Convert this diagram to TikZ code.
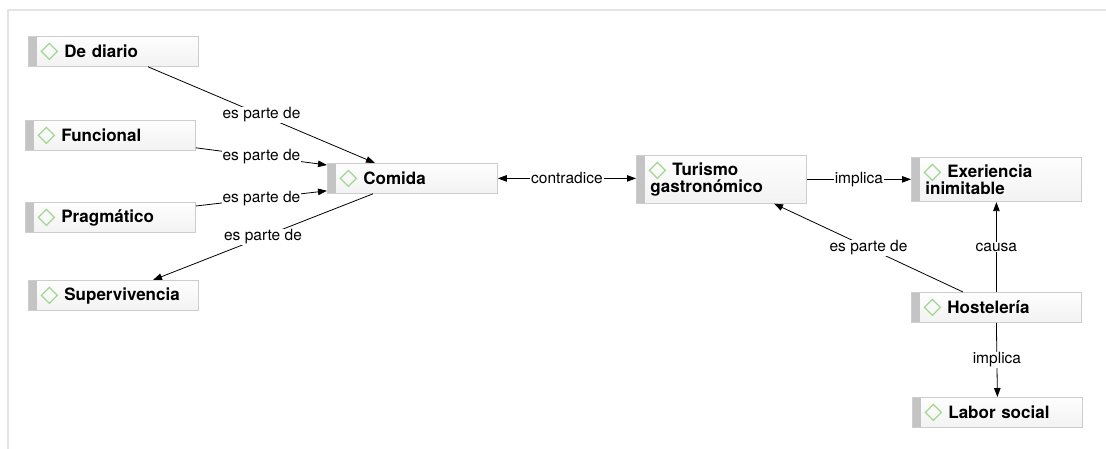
\documentclass[tikz,border=0pt]{standalone}
\usepackage{fontspec}
\setmainfont{TeX Gyre Heros}
\usetikzlibrary{arrows.meta,calc}
\definecolor{barcol}{HTML}{C4C4C4}
\definecolor{boxline}{HTML}{CDCDCD}
\definecolor{diacol}{HTML}{A2D792}
\definecolor{framecol}{HTML}{E4E4E4}
\tikzset{
    concept/.style={draw=boxline,line width=0.8pt,top color=gray!1,bottom color=gray!10,
        anchor=north west,text width=142pt,inner xsep=14pt,inner ysep=7pt,
        minimum height=30pt,align=left,font=\fontsize{17}{17.5}\selectfont\bfseries,
        path picture={
            \fill[barcol](path picture bounding box.north west)rectangle([xshift=9pt]path picture bounding box.south west);
            \draw[diacol,line width=1.3pt]([xshift=21pt,yshift=-15pt]path picture bounding box.north west)
                +(-8pt,0)--+(0,8pt)--+(8pt,0)--+(0,-8pt)--cycle;
        }},
    rel/.style={draw,line width=0.8pt,-{Triangle[length=9pt,width=6.5pt]}},
    birel/.style={rel,{Triangle[length=9pt,width=6.5pt]}-{Triangle[length=9pt,width=6.5pt]}},
    lab/.style={fill=white,inner sep=1pt,midway,font=\fontsize{15.5}{16}\selectfont}
}
\newcommand{\dia}{\hspace*{22pt}}
\begin{document}
\begin{tikzpicture}[x=1pt,y=-1pt]
\useasboundingbox(0,0)rectangle(1106,448);
\draw[framecol,line width=1.5pt,fill=white](8,10)rectangle(1130,470);
\node[concept](dediario)at(28,36){\dia De diario};
\node[concept](funcional)at(25,120){\dia Funcional};
\node[concept](pragmatico)at(25,202){\dia Pragmático};
\node[concept](supervivencia)at(28,280){\dia Supervivencia};
\node[concept](comida)at(327,163){\dia Comida};
\node[concept](turismo)at(636,155){\dia Turismo\\gastronómico};
\node[concept](exper)at(911,157){\dia Exeriencia\\inimitable};
\node[concept](hosteleria)at(911,292){\dia Hostelería};
\node[concept](labor)at(912,397){\dia Labor social};
\draw[rel]([xshift=120pt]dediario.south west)--([xshift=48pt]comida.north west)node[lab]{es parte de};
\draw[rel]([yshift=3pt]funcional.south east)--([yshift=-2pt]comida.north west)node[lab]{es parte de};
\draw[rel]([yshift=-4pt]pragmatico.north east)--([yshift=3pt]comida.south west)node[lab]{es parte de};
\draw[rel]([xshift=46pt]comida.south west)--([xshift=125pt]supervivencia.north west)node[lab]{es parte de};
\draw[birel](comida.east)--(comida.east-|turismo.west)node[lab]{contradice};
\draw[rel](turismo.east)--(turismo.east-|exper.west)node[lab]{implica};
\draw[rel]([xshift=52pt]hosteleria.north west)--([xshift=138pt]turismo.south west)node[lab]{es parte de};
\draw[rel](hosteleria.north)--(exper.south)node[lab]{causa};
\draw[rel](hosteleria.south)--(labor.north)node[lab]{implica};
\end{tikzpicture}
\end{document}
